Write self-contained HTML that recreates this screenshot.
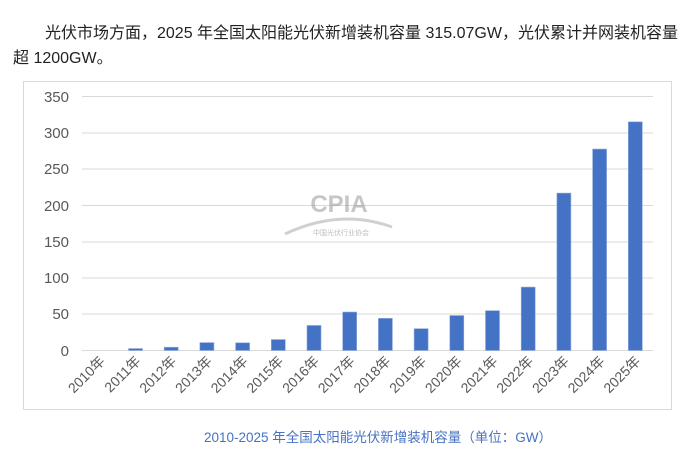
<!DOCTYPE html>
<html><head><meta charset="utf-8"><style>
body{margin:0;width:693px;height:458px;background:#fff;overflow:hidden;font-family:"Liberation Sans","Noto Sans CJK SC",sans-serif;}
.t{position:absolute;font-size:16px;color:#222;white-space:nowrap;}
</style></head><body>
<div class="t" style="left:45px;top:19px;">光伏市场方面，2025 年全国太阳能光伏新增装机容量 315.07GW，光伏累计并网装机容量</div>
<div class="t" style="left:13px;top:44px;">超 1200GW。</div>
<svg width="693" height="458" style="position:absolute;left:0;top:0" font-family="Liberation Sans, Noto Sans CJK SC, sans-serif">
<rect x="23.5" y="81.5" width="648" height="328" fill="none" stroke="#d9d9d9"/>
<g stroke="#d9d9d9" stroke-width="1">
<line x1="82" x2="653" y1="96.5" y2="96.5"/><line x1="82" x2="653" y1="133" y2="133"/><line x1="82" x2="653" y1="169" y2="169"/><line x1="82" x2="653" y1="205.5" y2="205.5"/><line x1="82" x2="653" y1="242" y2="242"/><line x1="82" x2="653" y1="278" y2="278"/><line x1="82" x2="653" y1="314" y2="314"/><line x1="82" x2="653" y1="350.5" y2="350.5"/>
</g>
<g font-size="15" fill="#595959" text-anchor="end">
<text x="69" y="102">350</text><text x="69" y="138">300</text><text x="69" y="174">250</text><text x="69" y="211">200</text><text x="69" y="247">150</text><text x="69" y="283">100</text><text x="69" y="319">50</text><text x="69" y="356">0</text>
</g>
<g opacity="0.55">
<text x="339" y="212" font-size="24" font-weight="bold" fill="#999" text-anchor="middle">CPIA</text>
<path d="M285 234 Q340 208 392 227" stroke="#aaa" stroke-width="3" fill="none"/>
<text x="341" y="235" font-size="7" fill="#888" text-anchor="middle">中国光伏行业协会</text>
</g>
<g fill="#4472c4" stroke="#8faadc" stroke-width="0.6" id="bars"></g>
<g id="lbl" font-size="14" fill="#595959"></g>
<text x="378" y="442" font-size="13.5" fill="#4472c4" text-anchor="middle">2010-2025 年全国太阳能光伏新增装机容量（单位：GW）</text>
</svg>
<script>
var v=[0,2.7,4.5,10.9,10.6,15.1,34.5,53,44.3,30.1,48.2,54.9,87.4,216.9,277.6,315.07];
var b=document.getElementById('bars'),l=document.getElementById('lbl'),ns="http://www.w3.org/2000/svg";
for(var i=0;i<16;i++){var cx=99.8+i*35.7,h=v[i]*254/350;
if(h>0){var r=document.createElementNS(ns,'rect');r.setAttribute('x',cx-7);r.setAttribute('y',350.5-h);r.setAttribute('width',14);r.setAttribute('height',h);b.appendChild(r);}
var t=document.createElementNS(ns,'text');t.setAttribute('text-anchor','end');t.setAttribute('transform','translate('+(cx+6)+',362) rotate(-45)');t.textContent=(2010+i)+'年';l.appendChild(t);}
</script>
</body></html>
